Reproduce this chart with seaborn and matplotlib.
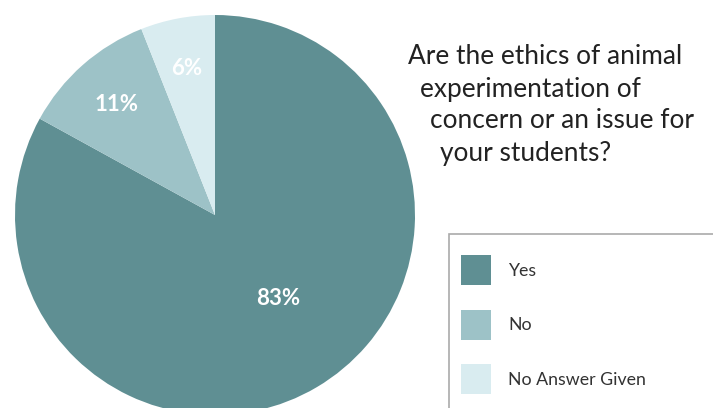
import matplotlib
matplotlib.use("Agg")
import matplotlib.pyplot as plt
import seaborn as sns
import numpy as np
from matplotlib.patches import Rectangle, Patch

categories = ["Yes", "No", "No Answer Given"]
values = [83, 11, 6]
pct_labels = ["83%", "11%", "6%"]
colors = ["#5f8f93", "#9dc2c7", "#d9ecf0"]
title_lines = ["Are the ethics of animal", "experimentation of",
               "concern or an issue for", "your students?"]

sns.set_theme(style="white")
plt.rcParams["font.family"] = ["Lato", "DejaVu Sans"]

W, H = 713, 408
fig = plt.figure(figsize=(W / 100, H / 100), dpi=100)
fig.patch.set_facecolor("white")

# pie axes: center (215,215) px, radius 200 px
cx, cy, r = 215, 215, 200
ax = fig.add_axes([(cx - r) / W, (H - cy - r) / H, 2 * r / W, 2 * r / H])
wedges, _ = ax.pie(values, colors=colors, startangle=90, counterclock=False,
                   radius=1, wedgeprops=dict(linewidth=0))
ax.set_xlim(-1, 1)
ax.set_ylim(-1, 1)
ax.set_aspect("equal")
ax.axis("off")

dist = [0.52, 0.745, 0.75]
ang_off = [7, 0, 0]
for w, lab, d, off in zip(wedges, pct_labels, dist, ang_off):
    a = np.deg2rad((w.theta1 + w.theta2) / 2 + off)
    ax.text(d * np.cos(a), d * np.sin(a) - 0.005, lab, ha="center", va="center",
            color="white", fontsize=16, fontweight="bold")

# title
xs = [408, 420, 430, 440]
ys = [57, 89, 121, 153]
for line, x, y in zip(title_lines, xs, ys):
    fig.text(x / W, 1 - y / H, line, ha="left", va="center", fontsize=18.9,
             color="#222222")

# legend frame
fig.patches.append(Rectangle((449 / W, -0.05), (W - 449 + 20) / W, 1.05 - 234 / H,
                             transform=fig.transFigure, facecolor="white",
                             edgecolor="#aaaaaa", linewidth=1.2))
handles = [Patch(facecolor=c, edgecolor="none") for c in colors]
fs = 12.8
fpx = fs * 100 / 72
hh = (30 / fpx - 0.245) / 0.65
leg = fig.legend(handles, categories, loc="upper left",
                 bbox_to_anchor=(461 / W, 1 - 255 / H), bbox_transform=fig.transFigure,
                 frameon=False, fontsize=fs, borderaxespad=0, borderpad=0,
                 handlelength=30 / fpx, handleheight=hh,
                 labelspacing=(64 - hh * fpx) / fpx, handletextpad=17 / fpx)
for t in leg.get_texts():
    t.set_color("#333333")

fig.savefig("out.png", dpi=100)
